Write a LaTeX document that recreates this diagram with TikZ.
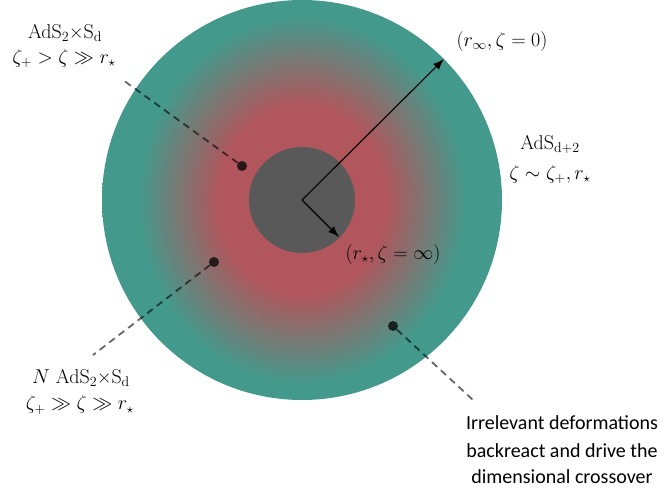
\documentclass[tikz,border=0pt]{standalone}
\usepackage{fix-cm}
\usepackage{amsmath,amssymb}
\usepackage{fontspec}
\newfontfamily\calibri{Carlito}
\usetikzlibrary{arrows.meta}
\definecolor{tealc}{RGB}{67,154,140}
\definecolor{redc}{RGB}{176,86,92}
\definecolor{corec}{RGB}{89,89,89}
\pgfdeclareradialshading{bulk}{\pgfpoint{0bp}{0bp}}{color(0bp)=(redc); color(10.5bp)=(redc); color(20.5bp)=(tealc); color(50bp)=(tealc)}
\begin{document}
\begin{tikzpicture}[x=1pt,y=-1pt,
  arr/.style={line width=1.1pt,-{Latex[length=11pt,width=8pt]}},
  dot/.style={circle,fill=black,fill opacity=0.75,minimum size=10pt,inner sep=0pt},
  dashline/.style={line width=1.8pt,draw=black,draw opacity=0.6,dash pattern=on 7pt off 5pt},
  lab/.style={anchor=base,inner sep=0pt,font=\fontsize{20}{24}\selectfont},
  clab/.style={anchor=base,inner sep=0pt,font=\fontsize{20}{26}\selectfont\calibri}]
\useasboundingbox (0,0) rectangle (670,494);
\coordinate (c) at (302,200);
\begin{scope}
  \clip (c) circle [radius=200pt];
  \shade[shading=bulk] (c) ellipse [x radius=200pt, y radius=225pt];
\end{scope}
\node[circle,fill=corec,minimum size=106pt,inner sep=0pt] (core) at (c) {};
\coordinate (rinf) at (444,59);
\coordinate (rstar) at (339,237);
\draw[arr] (c) -- (rinf);
\draw[arr] (c) -- (rstar);
\node[dot] (d1) at (242,166) {};
\node[dot] (d2) at (214,262) {};
\node[dot] (d3) at (393,326) {};
\coordinate (e1) at (123,80);
\coordinate (e2) at (93,355);
\coordinate (e3) at (473,400);
\draw[dashline] (d1) -- (e1);
\draw[dashline] (d2) -- (e2);
\draw[dashline] (d3) -- (e3);
\node[lab] (tl1) at (65,39) {AdS$_2$×S$_\mathrm{d}$};
\node[lab] (tl2) at (64,64) {$\zeta_+ > \zeta \gg r_\star$};
\node[lab] (rinfl) at (502,47) {$(r_\infty, \zeta = 0)$};
\node[lab] (ads1) at (550,150) {AdS$_{\mathrm{d+2}}$};
\node[lab] (ads2) at (550,180) {$\zeta \sim \zeta_+, r_\star$};
\node[lab] (rstarl) at (393,260) {$(r_\star, \zeta = \infty)$};
\node[lab] (bl1) at (81,384) {$N$ AdS$_2$×S$_\mathrm{d}$};
\node[lab] (bl2) at (80,410) {$\zeta_+ \gg \zeta \gg r_\star$};
\node[clab] (br1) at (562,430) {Irrelevant deformations};
\node[clab] (br2) at (562,457) {backreact and drive the};
\node[clab] (br3) at (562,483) {dimensional crossover};
\end{tikzpicture}
\end{document}
